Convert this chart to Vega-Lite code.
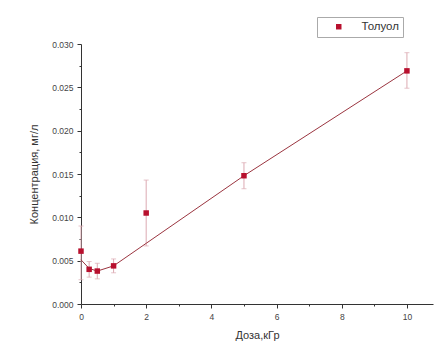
{
  "$schema": "https://vega.github.io/schema/vega-lite/v6.json",
  "autosize": "none",
  "width": 352,
  "height": 260,
  "padding": {"left": 81, "top": 44, "right": 10, "bottom": 43},
  "background": "white",
  "config": {
    "view": {"stroke": null},
    "font": "Liberation Sans",
    "axis": {"grid": false, "domainColor": "#333", "tickColor": "#333", "labelColor": "#444", "labelFontSize": 8.5, "titleFontSize": 11, "titleFontWeight": "normal", "titleColor": "#333", "labelPadding": 4}
  },
  "datasets": {
    "pts": [
      {"dose": 0, "conc": 0.0061, "lo": 0.0028, "hi": 0.0090, "series": "Толуол"},
      {"dose": 0.25, "conc": 0.0040, "lo": 0.0031, "hi": 0.0049, "series": "Толуол"},
      {"dose": 0.5, "conc": 0.0038, "lo": 0.0029, "hi": 0.0047, "series": "Толуол"},
      {"dose": 1, "conc": 0.0044, "lo": 0.0036, "hi": 0.0052, "series": "Толуол"},
      {"dose": 2, "conc": 0.0105, "lo": 0.0067, "hi": 0.0143, "series": "Толуол"},
      {"dose": 5, "conc": 0.0148, "lo": 0.0133, "hi": 0.0163, "series": "Толуол"},
      {"dose": 10, "conc": 0.0269, "lo": 0.0249, "hi": 0.0290, "series": "Толуол"}
    ],
    "fit": [
      {"dose": 0, "conc": 0.0051},
      {"dose": 0.25, "conc": 0.0041},
      {"dose": 0.5, "conc": 0.0038},
      {"dose": 1, "conc": 0.0044},
      {"dose": 2, "conc": 0.0070},
      {"dose": 5, "conc": 0.0148},
      {"dose": 10, "conc": 0.0269}
    ]
  },
  "encoding": {
    "x": {
      "field": "dose", "type": "quantitative",
      "scale": {"domain": [0, 10.8], "nice": false, "zero": false},
      "axis": {
        "title": "Доза,кГр", "titlePadding": 9,
        "values": [0,1,2,3,4,5,6,7,8,9,10],
        "labelExpr": "datum.value % 2 == 0 ? datum.label : ''",
        "tickSize": {"condition": {"test": "datum.value % 2 == 0", "value": 4}, "value": 2},
        "labelFlush": false
      }
    },
    "y": {
      "field": "conc", "type": "quantitative",
      "scale": {"domain": [0, 0.03], "nice": false},
      "axis": {
        "title": "Концентрация, мг/л", "titlePadding": 12,
        "values": [0, 0.0025, 0.005, 0.0075, 0.01, 0.0125, 0.015, 0.0175, 0.02, 0.0225, 0.025, 0.0275, 0.03],
        "format": ".3f",
        "labelExpr": "round(datum.value * 10000) % 50 == 0 ? datum.label : ''",
        "tickSize": {"condition": {"test": "round(datum.value * 10000) % 50 == 0", "value": 4}, "value": 2},
        "labelFlush": false
      }
    }
  },
  "layer": [
    {
      "data": {"name": "pts"},
      "mark": {"type": "errorbar", "ticks": {"size": 5, "color": "#dcaab2"}, "rule": {"color": "#dcaab2"}},
      "encoding": {
        "y": {"field": "lo", "type": "quantitative"},
        "y2": {"field": "hi"}
      }
    },
    {
      "data": {"name": "fit"},
      "mark": {"type": "line", "color": "#9b3540", "strokeWidth": 1},
      "encoding": {}
    },
    {
      "data": {"name": "pts"},
      "mark": {"type": "point", "shape": "square", "filled": true, "size": 30, "opacity": 1},
      "encoding": {
        "color": {
          "field": "series", "type": "nominal",
          "scale": {"range": ["#b8102e"]},
          "legend": {
            "title": null, "orient": "none", "legendX": 236, "legendY": -27,
            "strokeColor": "#aaa", "padding": 4, "symbolSize": 30, "symbolOffset": 12,
            "labelFontSize": 11.5, "labelColor": "#333", "labelOffset": 17
          }
        }
      }
    }
  ]
}
